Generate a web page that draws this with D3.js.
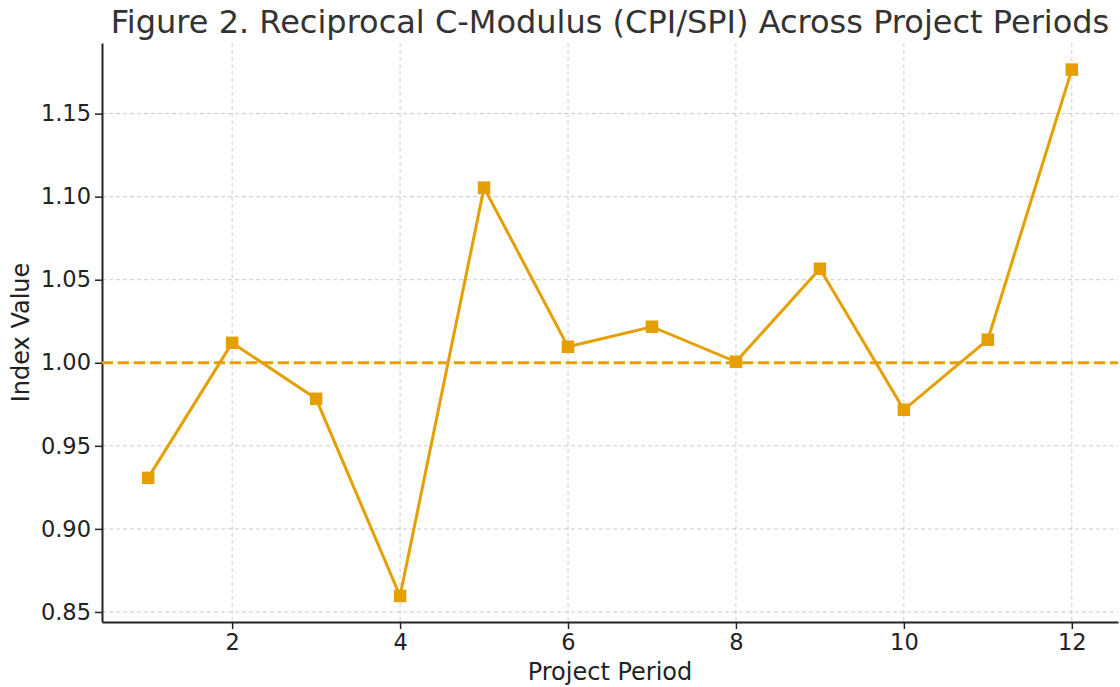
<!DOCTYPE html>
<html>
<head>
<meta charset="utf-8">
<script src="https://cdn.jsdelivr.net/npm/d3@7"></script>
<style>
  body { margin: 0; background: #fff; }
  svg { display: block; font-family: "DejaVu Sans", sans-serif; }
</style>
</head>
<body>
<div id="chart"></div>
<script>
// data
const periods = [1, 2, 3, 4, 5, 6, 7, 8, 9, 10, 11, 12];
const indexValues = [0.9307, 1.012, 0.9783, 0.8596, 1.1054, 1.0096, 1.0217, 1.0006, 1.0566, 0.9717, 1.0139, 1.1765];
const xTicks = [2, 4, 6, 8, 10, 12];
const yTicks = [0.85, 0.90, 0.95, 1.00, 1.05, 1.10, 1.15];
const refValue = 1.0;

const width = 1120, height = 687;
const margin = { top: 43, right: 2, bottom: 65, left: 102 };
const color = "#E69F00";

const svg = d3.select("#chart").append("svg")
  .attr("width", width)
  .attr("height", height);

const x = d3.scaleLinear()
  .domain([0.45, 12.55])
  .range([margin.left, width - margin.right]);

const y = d3.scaleLinear()
  .domain([0.84395, 1.1925])
  .range([height - margin.bottom, margin.top]);

// grid
svg.append("g")
  .selectAll("line")
  .data(xTicks)
  .join("line")
  .attr("x1", d => x(d)).attr("x2", d => x(d))
  .attr("y1", margin.top).attr("y2", height - margin.bottom)
  .attr("stroke", "#cccccc").attr("stroke-width", 1)
  .attr("stroke-dasharray", "4,3");

svg.append("g")
  .selectAll("line")
  .data(yTicks)
  .join("line")
  .attr("x1", margin.left).attr("x2", width - margin.right)
  .attr("y1", d => y(d)).attr("y2", d => y(d))
  .attr("stroke", "#cccccc").attr("stroke-width", 1)
  .attr("stroke-dasharray", "4,3");

// axes
const xAxis = svg.append("g")
  .attr("transform", `translate(0,${height - margin.bottom})`)
  .call(d3.axisBottom(x).tickValues(xTicks).tickSize(7).tickPadding(5).tickSizeOuter(0));

const yAxis = svg.append("g")
  .attr("transform", `translate(${margin.left},0)`)
  .call(d3.axisLeft(y).tickValues(yTicks).tickFormat(d3.format(".2f")).tickSize(7).tickPadding(4).tickSizeOuter(0));

[xAxis, yAxis].forEach(g => {
  g.select(".domain").attr("stroke", "#222").attr("stroke-width", 2);
  g.selectAll(".tick line").attr("stroke", "#222").attr("stroke-width", 1.5);
  g.selectAll(".tick text")
    .attr("fill", "#222")
    .style("font-size", "22.5px")
    .style("font-family", "DejaVu Sans, sans-serif");
});

// reference line
svg.append("line")
  .attr("x1", margin.left).attr("x2", width - margin.right)
  .attr("y1", y(refValue)).attr("y2", y(refValue))
  .attr("stroke", color).attr("stroke-width", 3)
  .attr("stroke-dasharray", "11,5");

// series
const line = d3.line()
  .x((d, i) => x(periods[i]))
  .y(d => y(d));

svg.append("path")
  .datum(indexValues)
  .attr("d", line)
  .attr("fill", "none")
  .attr("stroke", color)
  .attr("stroke-width", 3);

const ms = 12.5;
svg.append("g")
  .selectAll("rect")
  .data(indexValues)
  .join("rect")
  .attr("x", (d, i) => x(periods[i]) - ms / 2)
  .attr("y", d => y(d) - ms / 2)
  .attr("width", ms)
  .attr("height", ms)
  .attr("fill", color);

// labels
svg.append("text")
  .attr("x", (margin.left + width - margin.right) / 2)
  .attr("y", 33)
  .attr("text-anchor", "middle")
  .attr("fill", "#333")
  .style("font-size", "32px")
  .text("Figure 2. Reciprocal C-Modulus (CPI/SPI) Across Project Periods");

svg.append("text")
  .attr("x", (margin.left + width - margin.right) / 2)
  .attr("y", 680)
  .attr("text-anchor", "middle")
  .attr("fill", "#222")
  .style("font-size", "24px")
  .text("Project Period");

svg.append("text")
  .attr("transform", `translate(29,${(margin.top + height - margin.bottom) / 2}) rotate(-90)`)
  .attr("text-anchor", "middle")
  .attr("fill", "#222")
  .style("font-size", "24px")
  .text("Index Value");
</script>
</body>
</html>
